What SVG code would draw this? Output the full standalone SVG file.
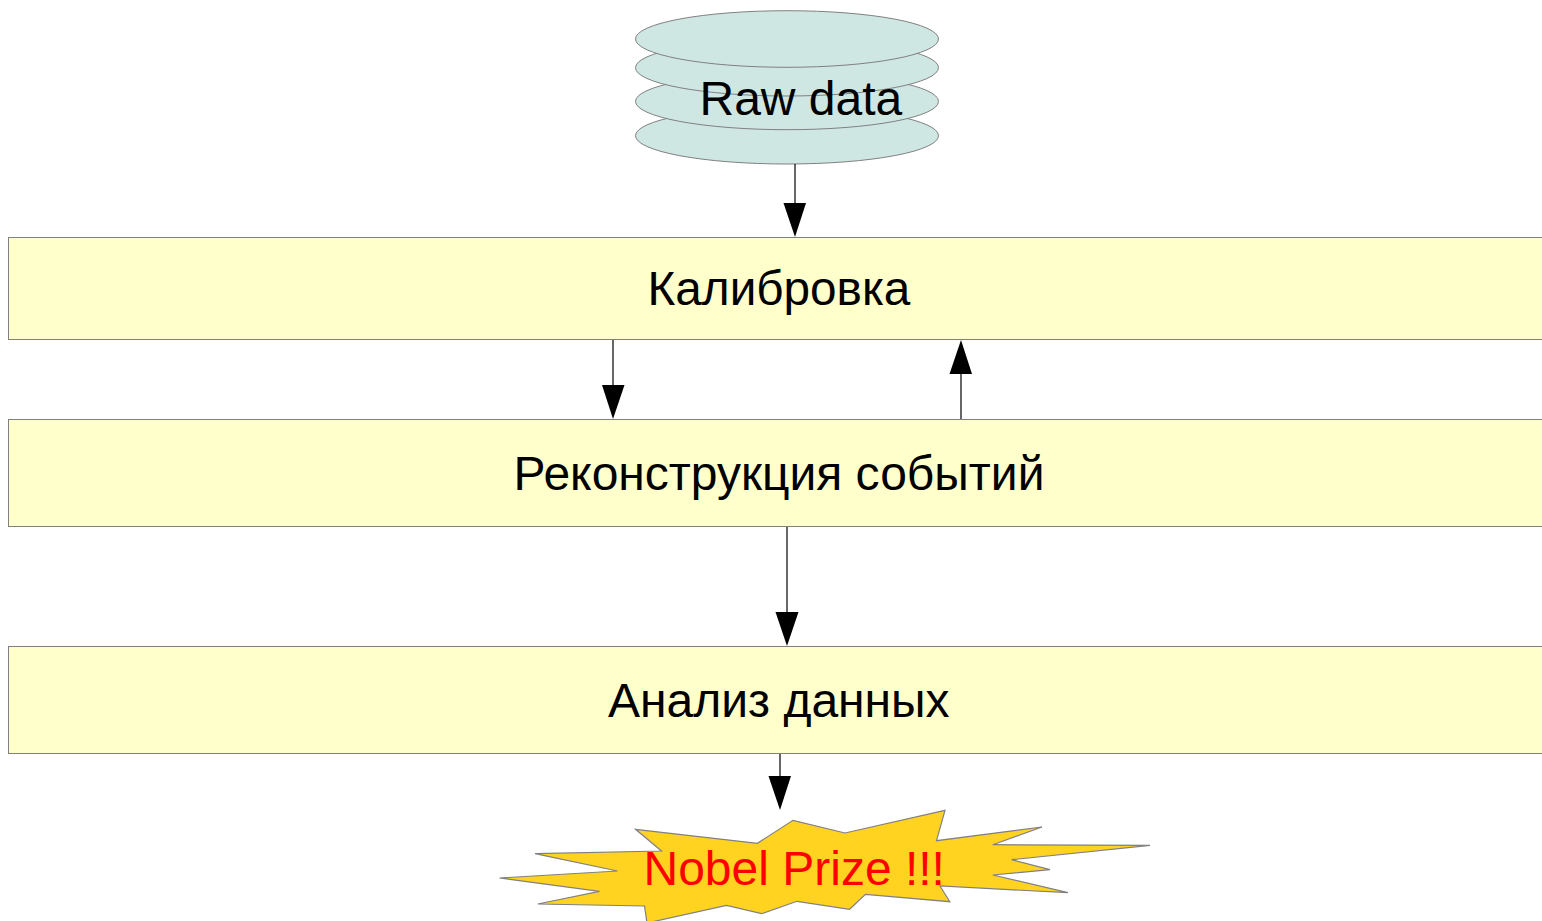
<svg xmlns="http://www.w3.org/2000/svg" width="1542" height="921" viewBox="0 0 1542 921">
<style>
text{font-family:"Liberation Sans",Arial,sans-serif;font-size:48px;fill:#000}
.box{fill:#ffffcc;stroke:#808080;stroke-width:1}
.db{fill:#cfe7e3;stroke:#808080;stroke-width:1}
.star{fill:#ffd320;stroke:#808080;stroke-width:1.2}
.conn{stroke:#000;stroke-width:1.2;fill:none}
.head{fill:#000}
</style>
<rect width="1542" height="921" fill="#fff"/>
<g id="raw-data">
<ellipse class="db" cx="787" cy="135.7" rx="151.5" ry="28.3"/>
<ellipse class="db" cx="787" cy="101.4" rx="151.5" ry="28.3"/>
<ellipse class="db" cx="787" cy="67.7" rx="151.5" ry="28.3"/>
<ellipse class="db" cx="787" cy="39" rx="151.5" ry="28.3"/>
<text x="699.500" y="115">Raw data</text>
</g>
<g id="calibration">
<rect class="box" x="8.5" y="237.5" width="1540" height="102"/>
<text x="647.500" y="305" style="font-size:47.7px">Калибровка</text>
</g>
<g id="reconstruction">
<rect class="box" x="8.5" y="419.5" width="1540" height="107"/>
<text x="513.500" y="490">Реконструкция событий</text>
</g>
<g id="analysis">
<rect class="box" x="8.5" y="646.5" width="1540" height="107"/>
<text x="608" y="717">Анализ данных</text>
</g>
<g id="nobel">
<polygon class="star" points="635.500,829.3 757.500,843.3 793,820.3 845,833 945,810.3 936.500,840.7 1042,827 992.800,844.7 1150,845.3 1011.500,859.700 1050,869.7 992.800,875 1068,892.7 940,886 949.800,901.700 865.500,894.3 849.500,909.3 797,901.3 761.500,913.7 726.500,905.300 647,923 644.500,906 537.800,904 599.500,891.3 499.500,878 617.500,871 535,853.7 661.500,851"/>
<text x="643.500" y="885" style="fill:#ff0000">Nobel Prize !!!</text>
</g>
<g id="connectors">
<path class="conn" d="M795 164V204"/><polygon class="head" points="783.5,203 806,203 795,237"/>
<path class="conn" d="M613 340V385"/><polygon class="head" points="602,385 624.500,385 613,419"/>
<path class="conn" d="M961 419V373"/><polygon class="head" points="949.500,374 972,374 961,340"/>
<path class="conn" d="M787 527V612"/><polygon class="head" points="775.500,612 798.500,612 787,646"/>
<path class="conn" d="M780 754V777"/><polygon class="head" points="768.500,776 791,776 780,810"/>
</g>
</svg>
